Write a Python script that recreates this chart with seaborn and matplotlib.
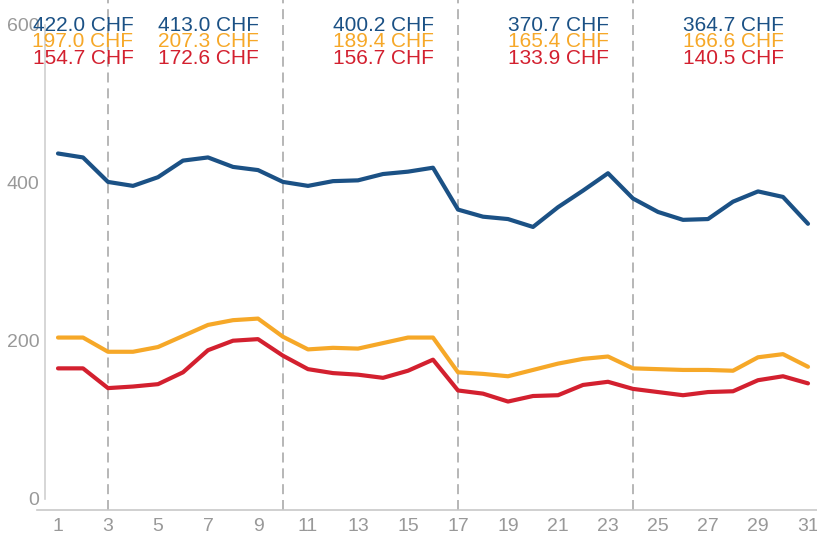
import numpy as np
import pandas as pd
import matplotlib
matplotlib.use("Agg")
import matplotlib.pyplot as plt
import matplotlib.transforms as mtransforms
import seaborn as sns

# ------------------------------------------------------------
# data
# ------------------------------------------------------------
days = list(range(1, 32))

top_vals = [437, 432, 401, 396, 407, 428, 432, 420, 416, 401,
            396, 402, 403, 411, 414, 419, 366, 357, 354, 344,
            369, 390, 412, 380, 363, 353, 354, 376, 389, 382, 348]
mid_vals = [204, 204, 186, 186, 192, 206, 220, 226, 228, 205,
            189, 191, 190, 197, 204, 204, 160, 158, 155, 163,
            171, 177, 180, 165, 164, 163, 163, 162, 179, 183, 167]
low_vals = [165, 165, 140, 142, 145, 160, 188, 200, 202, 181,
            164, 159, 157, 153, 162, 176, 137, 133, 123, 130,
            131, 144, 148, 139, 135, 131, 135, 136, 150, 155, 146]

week_starts = [3, 10, 17, 24]
label_days = [2, 7, 14, 21, 28]
top_labels = [422.0, 413.0, 400.2, 370.7, 364.7]
mid_labels = [197.0, 207.3, 189.4, 165.4, 166.6]
low_labels = [154.7, 172.6, 156.7, 133.9, 140.5]

series = ["top", "mid", "low"]
colors = {"top": "#1b5185", "mid": "#f6a828", "low": "#d3202f"}

df = pd.DataFrame({
    "day": days * 3,
    "value": top_vals + mid_vals + low_vals,
    "series": ["top"] * 31 + ["mid"] * 31 + ["low"] * 31,
})

# ------------------------------------------------------------
# plot
# ------------------------------------------------------------
sns.set_theme(style="white")
plt.rcParams["font.family"] = ["Liberation Sans", "DejaVu Sans"]

fig = plt.figure(figsize=(8.17, 5.35), dpi=100)
ax = fig.add_axes([37 / 817, 1 - 510 / 535, 780 / 817, 510 / 535])

for d in week_starts:
    ax.axvline(d, color="#aaaaaa", lw=1.2, dashes=(6, 3.5), zorder=1)

sns.lineplot(data=df, x="day", y="value", hue="series", hue_order=series,
             palette=colors, lw=3, legend=False, ax=ax, zorder=3)

ax.set_xlim(0.16, 31.36)
ax.set_ylim(-14.3, 631.3)
ax.set_xticks(range(1, 32, 2))
ax.set_yticks([0, 200, 400, 600])
ax.set_xlabel("")
ax.set_ylabel("")

for s in ["top", "right"]:
    ax.spines[s].set_visible(False)
ax.spines["left"].set_position(("data", 0.48))
ax.spines["left"].set_bounds(0, 600)
ax.spines["left"].set_color("#d0d0d0")
ax.spines["left"].set_linewidth(1.2)
ax.spines["bottom"].set_color("#c8c8c8")
ax.spines["bottom"].set_linewidth(1.2)

ax.tick_params(axis="both", length=0, labelsize=14, labelcolor="#999999")
ax.tick_params(axis="y", pad=4)
ax.tick_params(axis="x", pad=6)

# weekly averages on top
trans = mtransforms.blended_transform_factory(ax.transData, ax.transAxes)
for vals, key, ypos in [(top_labels, "top", 0.950),
                        (mid_labels, "mid", 0.918),
                        (low_labels, "low", 0.886)]:
    for d, v in zip(label_days, vals):
        ax.text(d, ypos, f"{v:.1f} CHF", transform=trans, ha="center",
                va="center", fontsize=15, color=colors[key], zorder=4)

fig.savefig("out.png", dpi=100)
